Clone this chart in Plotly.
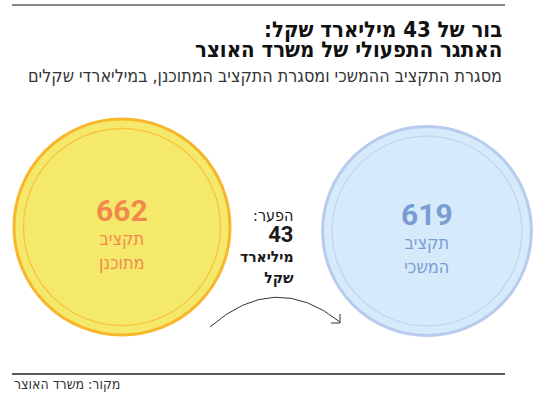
import plotly.graph_objects as go
import math

# ---- data ----
categories = ["תקציב<br>מתוכנן", "תקציב<br>המשכי"]
values = [662, 619]
gap_label = "43"
title_lines = ["בור של 43 מיליארד שקל:", "האתגר התפעולי של משרד האוצר"]
subtitle = "מסגרת התקציב ההמשכי ומסגרת התקציב המתוכנן, במיליארדי שקלים"
source = "מקור: משרד האוצר"

RLM = "\u200f"
def rtl(s):
    return RLM + s.replace("<br>", RLM + "<br>" + RLM) + RLM

def span(t, px, bold=False, family=None):
    st = f"font-size:{px}px"
    if family:
        st += f";font-family:{family}"
    inner_t = f"<b>{t}</b>" if bold else t
    return f"<span style='{st}'>{inner_t}</span>"

# ---- styling ----
fills = ["#f5e96c", "#d5ebfb"]
borders = ["#f8b62b", "#b8cbee"]
inner = ["#f8b62b", "#bccbe9"]
txtcol = ["#f08a4b", "#7b9bd3"]
xpos = [122, 427]
ypos = [227, 231]
maxd = 216
HEB = "DejaVu Sans Condensed"
NUM = "Roboto"

W, H = 550, 401
diam = [maxd * math.sqrt(v / max(values)) for v in values]

fig = go.Figure()
fig.add_trace(go.Scatter(
    x=xpos, y=ypos, mode="markers", hoverinfo="skip",
    marker=dict(size=diam, sizemode="diameter", color=fills,
                line=dict(color=borders, width=3), opacity=1),
))
fig.add_trace(go.Scatter(
    x=xpos, y=ypos, mode="markers", hoverinfo="skip",
    marker=dict(size=[d - 19 for d in diam], sizemode="diameter",
                color="rgba(0,0,0,0)",
                line=dict(color=inner, width=1.3)),
))

ann = []
for i in range(2):
    lines = [span(str(values[i]), 30, bold=True, family=NUM)] + \
            [span(rtl(c), 18) for c in categories[i].split("<br>")]
    ann.append(dict(x=xpos[i], y=ypos[i] + 6, text="<br>".join(lines),
                    font=dict(family=HEB, size=18.5, color=txtcol[i])))

# titles
ann.append(dict(x=504, y=39,
                text="<br>".join(span(rtl(t), 22, bold=True) for t in title_lines),
                xanchor="right",
                font=dict(family=HEB, size=15.4, color="#111111")))
ann.append(dict(x=504, y=75, text=rtl(subtitle), xanchor="right",
                font=dict(family=HEB, size=17.8, color="#333333")))

# gap text
gap_lines = [span(rtl("הפער:"), 16, family=HEB),
             span(gap_label, 22, bold=True, family=NUM),
             span(rtl("מיליארד"), 15.5, bold=True),
             span(rtl("שקל"), 15.5, bold=True)]
ann.append(dict(x=296, y=246, text="<br>".join(gap_lines), xanchor="right",
                font=dict(family=HEB, size=15.8, color="#1a1a1a")))

ann.append(dict(x=12, y=384, text=rtl(source), xanchor="left",
                font=dict(family=HEB, size=14, color="#333333")))

for a in ann:
    a.setdefault("xanchor", "center")
    a.update(xref="x", yref="y", showarrow=False, yanchor="middle",
             align=("right" if a["xanchor"] == "right" else "center"))

shapes = [
    dict(type="line", x0=12, x1=505, y0=5, y1=5, line=dict(color="#888888", width=2)),
    dict(type="line", x0=12, x1=505, y0=374, y1=374, line=dict(color="#222222", width=1.5)),
    dict(type="path", path="M 210,327 Q 275,270 340,322", line=dict(color="#333333", width=1)),
    dict(type="path", path="M 340,314 L 340,323 L 331,323", line=dict(color="#333333", width=1)),
]
for s in shapes:
    s.update(xref="x", yref="y")

fig.update_layout(
    width=W, height=H, margin=dict(l=0, r=0, t=0, b=0),
    paper_bgcolor="white", plot_bgcolor="white", showlegend=False,
    xaxis=dict(range=[0, W], visible=False, fixedrange=True),
    yaxis=dict(range=[H, 0], visible=False, fixedrange=True),
    annotations=ann, shapes=shapes,
)
fig.write_html("out.html", config={"displayModeBar": False},
               post_script="document.body.style.margin='0';")
